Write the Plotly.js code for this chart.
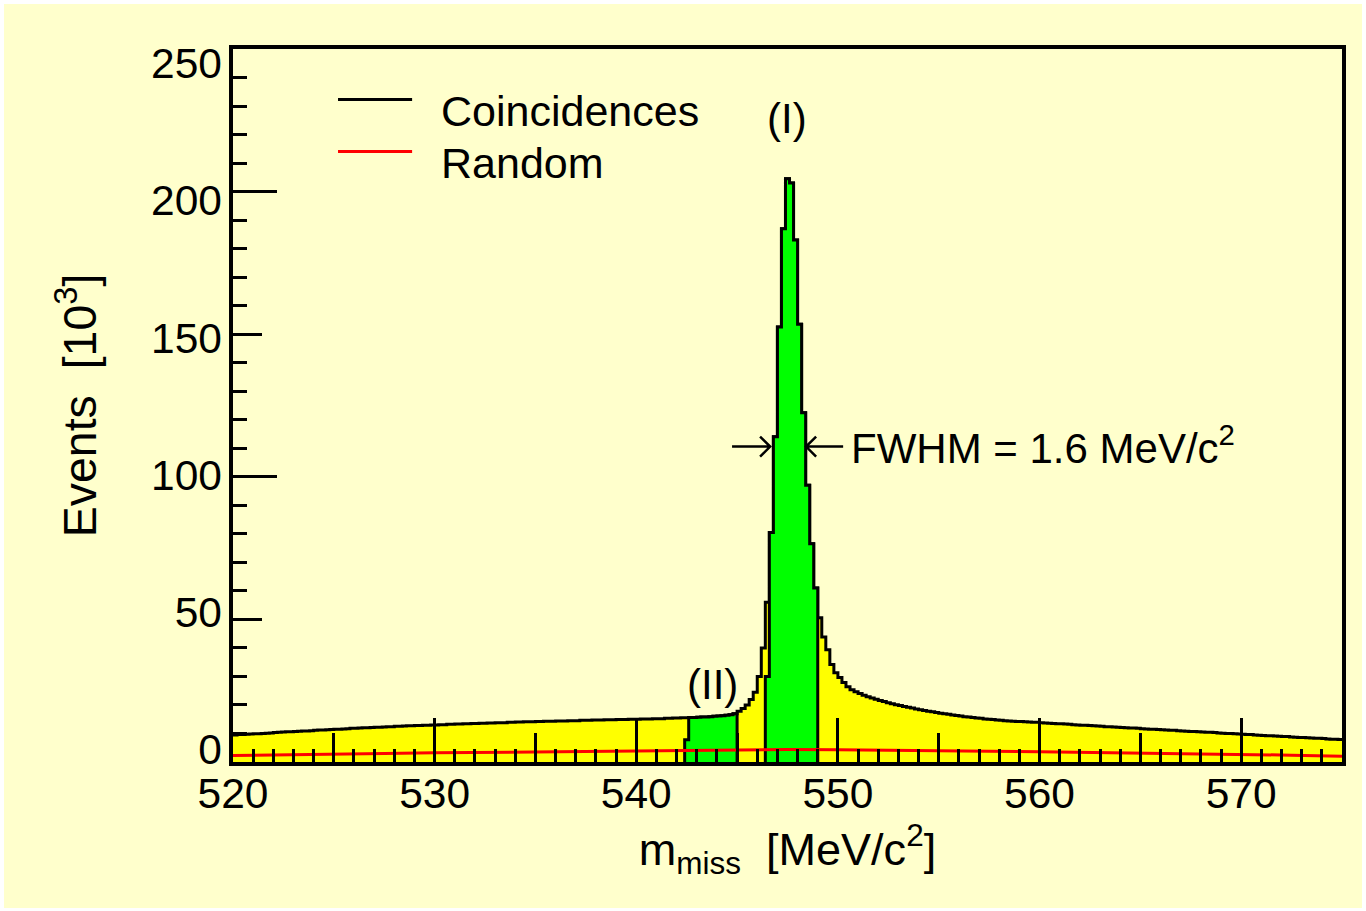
<!DOCTYPE html>
<html>
<head>
<meta charset="utf-8">
<script src="https://cdn.plot.ly/plotly-3.0.1.min.js"></script>
<style>
  html, body { margin: 0; padding: 0; background: #ffffff; }
  #chart { position: absolute; left: 4px; top: 4px; width: 1358px; height: 904px; }
</style>
</head>
<body>
<div id="chart"></div>
<script>
// ---- Data ----
const binLow = 520;          // MeV/c^2, lower edge of first bin
const binWidth = 0.2;        // MeV/c^2
// Coincidences, events [10^3] per bin (275 bins, 520 .. 575 MeV/c^2)
const coincidences = [
  9.5, 9.6, 9.6, 9.7, 9.8,
  9.9, 9.9, 10.0, 10.1, 10.2,
  10.3, 10.4, 10.5, 10.6, 10.6,
  10.7, 10.8, 10.9, 10.9, 11.0,
  11.1, 11.2, 11.2, 11.3, 11.4,
  11.5, 11.5, 11.6, 11.7, 11.8,
  11.8, 11.9, 12.0, 12.0, 12.1,
  12.2, 12.2, 12.3, 12.4, 12.4,
  12.5, 12.5, 12.6, 12.7, 12.7,
  12.8, 12.8, 12.9, 12.9, 13.0,
  13.0, 13.1, 13.1, 13.2, 13.2,
  13.3, 13.3, 13.4, 13.4, 13.5,
  13.5, 13.6, 13.6, 13.7, 13.7,
  13.8, 13.8, 13.8, 13.9, 13.9,
  14.0, 14.0, 14.1, 14.1, 14.1,
  14.2, 14.2, 14.3, 14.3, 14.3,
  14.4, 14.4, 14.4, 14.5, 14.5,
  14.5, 14.6, 14.6, 14.6, 14.7,
  14.7, 14.7, 14.8, 14.8, 14.8,
  14.9, 14.9, 14.9, 15.0, 15.0,
  15.0, 15.1, 15.1, 15.1, 15.2,
  15.2, 15.2, 15.3, 15.3, 15.4,
  15.4, 15.5, 15.5, 15.6, 15.6,
  15.7, 15.8, 15.8, 15.9, 16.0,
  16.1, 16.2, 16.4, 16.6, 16.9,
  17.8, 18.8, 20.0, 21.9, 24.5,
  30.0, 40.0, 56.0, 80.5, 114.0,
  152.5, 187.0, 204.5, 203.0, 183.0,
  153.5, 122.5, 97.0, 76.5, 61.0,
  50.6, 43.8, 39.4, 34.2, 31.3,
  29.6, 27.9, 26.4, 25.3, 24.6,
  24.0, 23.4, 22.9, 22.4, 22.0,
  21.6, 21.2, 20.8, 20.4, 20.1,
  19.8, 19.5, 19.2, 18.9, 18.6,
  18.3, 18.1, 17.8, 17.6, 17.4,
  17.1, 16.9, 16.7, 16.5, 16.3,
  16.1, 15.9, 15.8, 15.6, 15.4,
  15.3, 15.1, 15.0, 14.9, 14.7,
  14.6, 14.5, 14.4, 14.3, 14.2,
  14.2, 14.1, 14.0, 13.9, 13.9,
  13.8, 13.7, 13.6, 13.5, 13.4,
  13.4, 13.3, 13.2, 13.1, 13.0,
  12.9, 12.9, 12.8, 12.7, 12.6,
  12.5, 12.4, 12.4, 12.3, 12.2,
  12.1, 12.0, 11.9, 11.9, 11.8,
  11.7, 11.6, 11.5, 11.5, 11.4,
  11.3, 11.2, 11.1, 11.1, 11.0,
  10.9, 10.8, 10.7, 10.7, 10.6,
  10.5, 10.4, 10.4, 10.3, 10.2,
  10.1, 10.0, 10.0, 9.9, 9.8,
  9.7, 9.6, 9.6, 9.5, 9.4,
  9.3, 9.2, 9.2, 9.1, 9.0,
  8.9, 8.9, 8.8, 8.7, 8.6,
  8.6, 8.5, 8.4, 8.3, 8.3,
  8.2, 8.1, 8.0, 8.0, 7.9
];
// Random background
const randomMass   = [520, 522.5, 525, 527.5, 530, 532.5, 535, 537.5, 540, 542.5, 545, 547.5, 550, 552.5, 555, 557.5, 560, 562.5, 565, 567.5, 570, 572.5, 575];
const randomEvents = [2.3, 2.6, 2.8, 3.0, 3.2, 3.4, 3.6, 3.8, 4.0, 4.1, 4.3, 4.4, 4.3, 4.2, 4.0, 3.8, 3.6, 3.4, 3.2, 3.0, 2.8, 2.4, 2.0];
// Selected windows (green)
const windowI  = [546.4, 549.0];
const windowIFirstBin = 30.0;
const windowII = [542.4, 545.0];
const windowIIFirstBin = 7.8;
// Axis tick labels
const yLabelValues = [0, 50, 100, 150, 200, 250];
const xLabelValues = [520, 530, 540, 550, 560, 570];
// Text
const legendLabels = ['Coincidences', 'Random'];
const peakLabels = ['(I)', '(II)'];
const fwhmLabel = 'FWHM = 1.6 MeV/c<sup>2</sup>';
const xTitle = 'm<sub>miss</sub>  [MeV/c<sup>2</sup>]';
const yTitle = 'Events  [10<sup>3</sup>]';

// ---- helpers ----
function edge(i, lo) { return Math.round((lo + i * binWidth) * 1000) / 1000; }
function histPath(lo, vals, closed) {
  const xs = [], ys = [];
  if (closed) { xs.push(lo); ys.push(0); }
  for (let i = 0; i < vals.length; i++) { xs.push(edge(i, lo)); ys.push(vals[i]); }
  xs.push(edge(vals.length, lo)); ys.push(vals[vals.length - 1]);
  if (closed) { xs.push(edge(vals.length, lo)); ys.push(0); }
  return {x: xs, y: ys};
}
function windowVals(win, firstBin) {
  const i0 = Math.round((win[0] - binLow) / binWidth);
  const i1 = Math.round((win[1] - binLow) / binWidth);
  const v = coincidences.slice(i0, i1);
  v[0] = firstBin;
  return {lo: win[0], vals: v};
}

const FONT = 'Liberation Sans, Arial, Helvetica, sans-serif';
const BG = '#FFFFCC';
const TICKFONT = {family: FONT, size: 42.5, color: '#000'};

const main = histPath(binLow, coincidences, false);
const wI = windowVals(windowI, windowIFirstBin);
const wII = windowVals(windowII, windowIIFirstBin);
const gI = histPath(wI.lo, wI.vals, true);
const gII = histPath(wII.lo, wII.vals, true);

const traces = [
  {x: main.x, y: main.y, type: 'scatter', mode: 'lines', line: {shape: 'hv', color: '#000000', width: 3},
   fill: 'tozeroy', fillcolor: '#FFFF00', hoverinfo: 'skip', showlegend: false},
  {x: gII.x, y: gII.y, type: 'scatter', mode: 'lines', line: {shape: 'hv', color: '#000000', width: 3},
   fill: 'tozeroy', fillcolor: '#00FF00', hoverinfo: 'skip', showlegend: false},
  {x: gI.x, y: gI.y, type: 'scatter', mode: 'lines', line: {shape: 'hv', color: '#000000', width: 3},
   fill: 'tozeroy', fillcolor: '#00FF00', hoverinfo: 'skip', showlegend: false},
  {x: randomMass, y: randomEvents, type: 'scatter', mode: 'lines', line: {color: '#FF0000', width: 3},
   hoverinfo: 'skip', showlegend: false},
  // carriers for the overlay axes
  {x: [520], y: [0], xaxis: 'x2', yaxis: 'y2', type: 'scatter', mode: 'markers', marker: {opacity: 0}, hoverinfo: 'skip', showlegend: false},
  {x: [520], y: [0], xaxis: 'x', yaxis: 'y3', type: 'scatter', mode: 'markers', marker: {opacity: 0}, hoverinfo: 'skip', showlegend: false}
];

const tickStyle = {ticks: 'inside', tickcolor: '#000000', tickwidth: 3};

// arrows (FWHM markers) in data coordinates
const arrowY = 110.6;
const ahx = 0.5, ahy = 3.5;
const leftTail = 544.75, leftHead = 546.64, rightHead = 548.42, rightTail = 550.26;

const shapes = [
  {type: 'path', xref: 'x', yref: 'y', line: {color: '#000', width: 2.5},
   path: `M${leftTail},${arrowY} L${leftHead},${arrowY} M${leftHead - ahx},${arrowY + ahy} L${leftHead},${arrowY} L${leftHead - ahx},${arrowY - ahy}`},
  {type: 'path', xref: 'x', yref: 'y', line: {color: '#000', width: 2.5},
   path: `M${rightTail},${arrowY} L${rightHead},${arrowY} M${rightHead + ahx},${arrowY + ahy} L${rightHead},${arrowY} L${rightHead + ahx},${arrowY - ahy}`},
  // legend samples
  {type: 'line', xref: 'paper', yref: 'paper', x0: 0.0947, x1: 0.1615, y0: 0.929, y1: 0.929, line: {color: '#000000', width: 3}},
  {type: 'line', xref: 'paper', yref: 'paper', x0: 0.0947, x1: 0.1615, y0: 0.8564, y1: 0.8564, line: {color: '#FF0000', width: 3}}
];

const annFont = {family: FONT, size: 42, color: '#000000'};
const legFont = {family: FONT, size: 43, color: '#000000'};
const annotations = [
  {xref: 'paper', yref: 'paper', x: 0.186, y: 0.9127, xanchor: 'left', yanchor: 'middle', text: legendLabels[0], showarrow: false, font: legFont},
  {xref: 'paper', yref: 'paper', x: 0.186, y: 0.8396, xanchor: 'left', yanchor: 'middle', text: legendLabels[1], showarrow: false, font: legFont},
  {xref: 'x', yref: 'y', x: 547.48, y: 225.5, xanchor: 'center', yanchor: 'middle', text: peakLabels[0], showarrow: false, font: annFont},
  {xref: 'x', yref: 'y', x: 543.76, y: 27.1, xanchor: 'center', yanchor: 'middle', text: peakLabels[1], showarrow: false, font: annFont},
  {xref: 'x', yref: 'y', x: 550.55, y: 111.2, xanchor: 'left', yanchor: 'middle', text: fwhmLabel, showarrow: false, font: annFont}
];

const layout = {
  width: 1358, height: 904,
  margin: {l: 229, r: 20, t: 45, b: 145.5, pad: 0},
  paper_bgcolor: BG, plot_bgcolor: BG,
  showlegend: false,
  font: {family: FONT, color: '#000000', size: 42},
  xaxis: Object.assign({
    range: [520, 575], tickvals: xLabelValues, ticklen: 44,
    showline: true, linecolor: '#000', linewidth: 4, mirror: true,
    showgrid: false, zeroline: false, layer: 'above traces',
    tickfont: TICKFONT,
    ticklabelstandoff: -9,
    minor: {dtick: 1, tick0: 520, ticks: 'inside', ticklen: 13.5, tickwidth: 3, tickcolor: '#000', showgrid: false},
    title: {text: xTitle, font: {family: FONT, size: 45, color: '#000'}, standoff: 14}
  }, tickStyle),
  yaxis: Object.assign({
    range: [0, 250], tick0: 0, dtick: 50, ticklen: 29,
    showline: true, linecolor: '#000', linewidth: 4, mirror: true,
    showgrid: false, zeroline: false, layer: 'above traces',
    showticklabels: false,
    minor: {dtick: 10, tick0: 0, ticks: 'inside', ticklen: 13.5, tickwidth: 3, tickcolor: '#000', showgrid: false}
  }, tickStyle),
  xaxis2: Object.assign({
    overlaying: 'x', anchor: 'y2', side: 'bottom', range: [520, 575], tick0: 520, dtick: 5, ticklen: 29,
    showticklabels: false, showline: false, showgrid: false, zeroline: false, layer: 'above traces'
  }, tickStyle),
  yaxis2: Object.assign({
    overlaying: 'y', anchor: 'x2', side: 'left', range: [0, 250], tick0: 0, dtick: 100, ticklen: 44,
    showticklabels: false, showline: false, showgrid: false, zeroline: false, layer: 'above traces'
  }, tickStyle),
  // label axis: ROOT places the y labels on a slightly compressed scale
  yaxis3: {
    overlaying: 'y', anchor: 'x', side: 'left', range: [-4.55, 255.2], tickvals: yLabelValues,
    ticks: '', showline: false, showgrid: false, zeroline: false,
    tickfont: TICKFONT,
    ticklabelstandoff: 10,
    title: {text: yTitle, font: {family: FONT, size: 46.5, color: '#000'}, standoff: 39}
  },
  shapes: shapes,
  annotations: annotations
};

Plotly.newPlot('chart', traces, layout, {displayModeBar: false, staticPlot: true});
</script>
</body>
</html>
